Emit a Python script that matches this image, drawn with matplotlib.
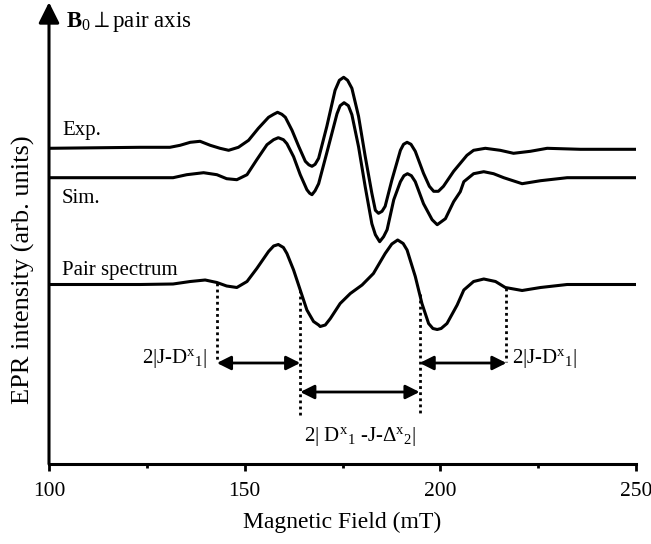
import matplotlib
matplotlib.use("Agg")
from matplotlib import pyplot as plt
import numpy as np

plt.rcParams['font.family'] = ['Liberation Serif', 'DejaVu Serif']
plt.rcParams['mathtext.fontset'] = 'custom'
plt.rcParams['mathtext.rm'] = 'Liberation Serif'
plt.rcParams['mathtext.it'] = 'Liberation Serif:italic'
plt.rcParams['mathtext.bf'] = 'Liberation Serif:bold'

# field values (mT) and intensities (arb. units, relative to each baseline)
exp_field = [100.0, 123.3, 130.9, 133.5, 136.1, 138.6, 141.2, 143.7, 145.9, 148.4,
             151.0, 153.5, 156.1, 157.4, 158.4, 159.5, 160.4, 162.1, 163.8, 165.5,
             166.4, 167.2, 168.0, 168.9, 171.0, 173.1, 174.2, 175.3, 176.3, 177.4,
             179.1, 180.8, 182.5, 183.4, 184.2, 185.1, 185.9, 187.6, 189.8, 190.6,
             191.5, 192.5, 193.6, 195.7, 197.2, 198.3, 199.5, 200.8, 203.4, 205.1,
             206.8, 208.5, 211.5, 215.3, 218.7, 223.0, 227.3, 235.8, 250.0]
exp_int = [0.00, 0.01, 0.01, 0.03, 0.06, 0.07, 0.03, 0.00, -0.02, 0.01,
           0.08, 0.20, 0.31, 0.34, 0.36, 0.34, 0.31, 0.18, 0.02, -0.13,
           -0.165, -0.18, -0.16, -0.10, 0.22, 0.58, 0.68, 0.71, 0.68, 0.60,
           0.32, -0.08, -0.45, -0.62, -0.65, -0.63, -0.58, -0.32, -0.02, 0.04,
           0.06, 0.04, -0.03, -0.25, -0.38, -0.43, -0.43, -0.38, -0.23, -0.15,
           -0.07, -0.02, 0.00, -0.02, -0.05, -0.03, 0.00, -0.01, -0.01]

sim_field = [100.0, 123.3, 131.7, 135.2, 139.5, 142.9, 145.4, 148.0, 150.6, 153.1,
             155.7, 157.4, 158.6, 159.9, 160.8, 162.5, 164.2, 165.9, 166.6, 167.2,
             168.0, 168.9, 171.4, 173.6, 174.4, 175.4, 176.5, 177.4, 179.1, 180.8,
             182.5, 183.4, 184.5, 185.5, 186.4, 188.1, 189.8, 190.7, 191.6, 192.6,
             193.6, 195.7, 197.9, 199.2, 201.3, 203.4, 205.1, 206.0, 208.5, 211.1,
             213.6, 216.2, 220.9, 225.6, 232.4, 250.0]
sim_int = [0.00, 0.00, 0.00, 0.03, 0.05, 0.03, -0.01, -0.02, 0.03, 0.18,
           0.33, 0.38, 0.40, 0.38, 0.34, 0.21, 0.03, -0.12, -0.155, -0.17,
           -0.13, -0.06, 0.31, 0.64, 0.72, 0.75, 0.72, 0.63, 0.31, -0.09,
           -0.46, -0.57, -0.64, -0.59, -0.52, -0.22, -0.04, 0.02, 0.04, 0.02,
           -0.04, -0.26, -0.42, -0.47, -0.41, -0.24, -0.14, -0.04, 0.04, 0.06,
           0.04, 0.00, -0.06, -0.03, 0.00, 0.00]

pair_field = [100.0, 123.3, 131.7, 136.1, 139.9, 142.9, 145.4, 148.0, 150.6, 153.1,
              156.1, 157.4, 158.6, 159.9, 160.8, 162.5, 164.2, 165.9, 167.6, 168.9,
              169.3, 170.6, 171.9, 174.4, 177.0, 180.0, 182.9, 185.9, 187.6, 189.1,
              190.5, 191.5, 193.6, 195.3, 197.0, 198.1, 199.2, 200.2, 201.7, 204.3,
              206.0, 208.5, 211.1, 214.1, 216.6, 220.9, 225.6, 232.4, 250.0]
pair_int = [0.00, 0.00, 0.005, 0.03, 0.045, 0.02, -0.015, -0.03, 0.03, 0.16,
            0.33, 0.385, 0.40, 0.37, 0.31, 0.145, -0.055, -0.255, -0.37, -0.405,
            -0.42, -0.405, -0.34, -0.19, -0.09, -0.005, 0.11, 0.31, 0.405, 0.445,
            0.41, 0.345, 0.08, -0.19, -0.39, -0.44, -0.45, -0.44, -0.39, -0.205,
            -0.055, 0.03, 0.055, 0.03, -0.03, -0.06, -0.03, 0.00, 0.00]

# vertical offsets of the stacked spectra
offsets = {'Exp.': 3.157, 'Sim.': 2.863, 'Pair spectrum': 1.795}

# splitting markers on the pair spectrum (mT)
split_fields = [142.9, 164.2, 194.7, 216.9]

fig = plt.figure(figsize=(6.51, 5.44), dpi=100)
ax = fig.add_axes([49 / 651, 80 / 544, 587 / 651, 444 / 544])

lw = 2.2
for fld, inten, key in [(exp_field, exp_int, 'Exp.'),
                        (sim_field, sim_int, 'Sim.'),
                        (pair_field, pair_int, 'Pair spectrum')]:
    ax.plot(fld, np.array(inten) + offsets[key], color='black', lw=lw,
            solid_joinstyle='round', solid_capstyle='round')

fs = 15
ax.text(103.3, 3.29, 'Exp.', fontsize=fs, va='baseline')
ax.text(103.3, 2.61, 'Sim.', fontsize=fs, va='baseline')
ax.text(103.3, 1.89, 'Pair spectrum', fontsize=fs, va='baseline')

# dotted guide lines down from the pair spectrum
pair_y = np.array(pair_int) + offsets['Pair spectrum']
bottoms = [1.02, 0.49, 0.49, 1.02]
for xf, yb in zip(split_fields, bottoms):
    ytop = np.interp(xf, pair_field, pair_y)
    ax.plot([xf, xf], [ytop, yb], color='black', lw=2, ls=(0, (1, 1.2)))

arrow_kw = dict(arrowstyle='<|-|>,head_length=0.6,head_width=0.3',
                color='black', lw=2, mutation_scale=14, shrinkA=0, shrinkB=0)
ax.annotate('', xy=(split_fields[1], 1.01), xytext=(split_fields[0], 1.01),
            arrowprops=arrow_kw)
ax.annotate('', xy=(split_fields[3], 1.01), xytext=(split_fields[2], 1.01),
            arrowprops=arrow_kw)
ax.annotate('', xy=(split_fields[2], 0.72), xytext=(split_fields[1], 0.72),
            arrowprops=arrow_kw)

ax.text(140.4, 1.06, r'2|J-D$^{\mathrm{x}}{}_{1}$|', fontsize=fs,
        ha='right', va='center')
ax.text(218.2, 1.06, r'2|J-D$^{\mathrm{x}}{}_{1}$|', fontsize=fs,
        ha='left', va='center')
ax.text(179.5, 0.27, r'2| D$^{\mathrm{x}}{}_{1}$ -J-$\Delta^{\mathrm{x}}{}_{2}$|',
        fontsize=fs, ha='center', va='center')

ax.text(104.4, 4.373, r'$\mathbf{B}_{0}$$\perp$pair axis', fontsize=16.5,
        va='baseline', clip_on=False)

ax.set_xlim(100, 250)
ax.set_ylim(0, 4.44)
ax.set_xticks([100, 150, 200, 250])
ax.set_xticks([125, 175, 225], minor=True)
ax.set_yticks([])
ax.tick_params(axis='x', which='major', direction='out', length=5, width=2,
               labelsize=15.5, pad=8)
ax.tick_params(axis='x', which='minor', direction='out', length=3, width=2)
for side in ['top', 'right', 'left']:
    ax.spines[side].set_visible(False)
ax.spines['bottom'].set_linewidth(2.2)

# y axis drawn as an arrow
ax.annotate('', xy=(0, 1.04), xytext=(0, 0), xycoords='axes fraction',
            textcoords='axes fraction',
            arrowprops=dict(arrowstyle='-|>,head_length=0.9,head_width=0.45',
                            color='black', lw=2.2, mutation_scale=14,
                            shrinkA=0, shrinkB=0))

ax.set_xlabel('Magnetic Field (mT)', fontsize=17)
ax.xaxis.set_label_coords(0.5, -0.108)
fig.text(23 / 651, 1 - 270 / 544, 'EPR intensity (arb. units)', fontsize=19,
         rotation=90, ha='center', va='center')

fig.savefig('out.png', dpi=100)
